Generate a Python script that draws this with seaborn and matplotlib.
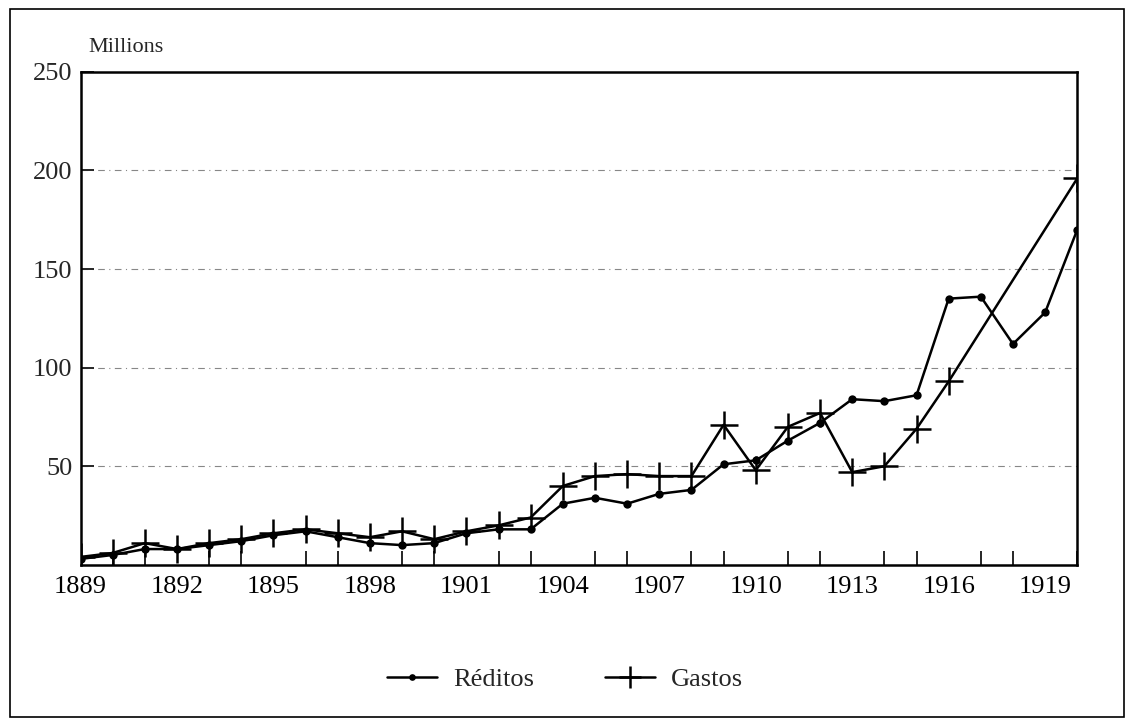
import pandas as pd
import matplotlib.pyplot as plt
import seaborn as sns
from matplotlib.patches import Rectangle

# values (millions)
years = list(range(1889, 1921))
reditos = [3, 5, 8, 8, 10, 12, 15, 17, 14, 11, 10, 11, 16, 18, 18, 31, 34, 31, 36, 38,
           51, 53, 63, 72, 84, 83, 86, 135, 136, 112, 128, 170]
gastos_years = list(range(1889, 1917)) + [1920]
gastos = [4, 6, 11, 8, 11, 13, 16, 18, 16, 14, 17, 13, 17, 20, 24, 40, 45, 46, 45, 45,
          71, 48, 70, 77, 47, 50, 69, 93, 196]

df_r = pd.DataFrame({"year": years, "value": reditos})
df_g = pd.DataFrame({"year": gastos_years, "value": gastos})

sns.set_theme(style="white")
plt.rcParams["font.family"] = ["Liberation Serif", "DejaVu Serif"]

fig = plt.figure(figsize=(11.34, 7.26), dpi=100)
ax = fig.add_axes([0.071, 0.222, 0.879, 0.679])

# faint dash-dot grid like the scan
for g in [50, 100, 150, 200]:
    ax.axhline(g, color="#555555", lw=0.8, ls=(0, (6, 4, 1, 4)), alpha=0.7, zorder=0)

sns.lineplot(data=df_r, x="year", y="value", ax=ax, color="black", lw=1.8,
             marker="o", markersize=6, markeredgewidth=0, label="Réditos")
sns.lineplot(data=df_g, x="year", y="value", ax=ax, color="black", lw=1.8,
             marker="+", markersize=20, markeredgewidth=1.8, markeredgecolor="black",
             label="Gastos")

ax.set_xlim(1889, 1920)
ax.set_ylim(0, 250)
ax.set_xticks(range(1889, 1921, 3))
ax.set_xticks(range(1889, 1921), minor=True)
ax.set_yticks([50, 100, 150, 200, 250])
ax.tick_params(axis="x", which="major", direction="inout", length=16, width=1.6,
               labelsize=19, pad=0, colors="black")
ax.tick_params(axis="x", which="minor", direction="in", length=10, width=1.4,
               bottom=True)
ax.tick_params(axis="y", which="major", direction="in", length=9, width=1.4,
               labelsize=19, pad=6, left=True)
for s in ax.spines.values():
    s.set_color("black")
    s.set_linewidth(1.8)
ax.set_xlabel("")
ax.set_ylabel("")
ax.text(0.008, 1.03, "Millions", transform=ax.transAxes, fontsize=16,
        ha="left", va="bottom")

ax.legend(loc="center", bbox_to_anchor=(0.486, -0.232), ncol=2, frameon=False,
          fontsize=19, handlelength=1.9, handletextpad=0.6, columnspacing=2.7,
          markerscale=0.8)

# outer frame of the figure
fig.patches.append(Rectangle((0.009, 0.013), 0.982, 0.975, transform=fig.transFigure,
                             fill=False, edgecolor="black", lw=1.2))

fig.savefig("out.png", dpi=100, facecolor="white")
